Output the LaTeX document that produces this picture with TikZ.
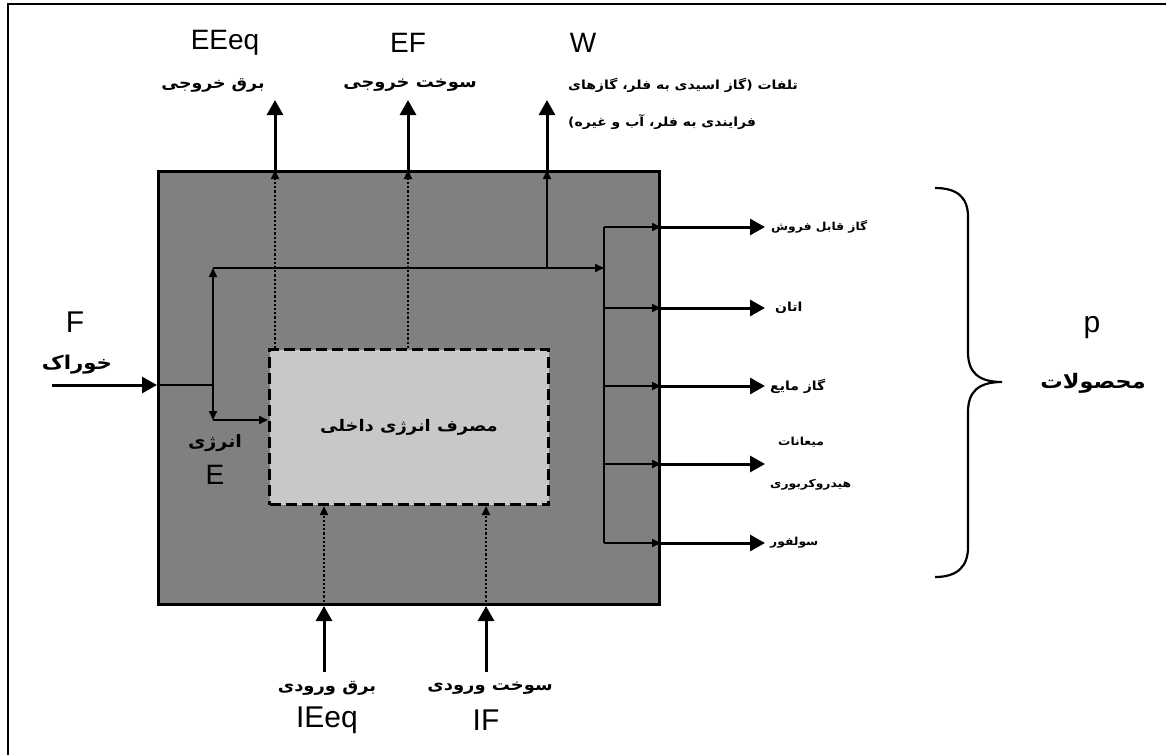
\documentclass[tikz,border=0pt]{standalone}
\usepackage{fontspec}
\setmainfont{Liberation Sans}
\newfontfamily\fa[Script=Arabic,FakeStretch=1.12]{DejaVu Sans}
\TeXXeTstate=1
\usetikzlibrary{arrows.meta}
\newcommand{\fatx}[1]{\beginR #1\endR}
\newcommand{\fsz}[1]{\fontsize{#1}{#1}\selectfont}
\definecolor{boxgray}{RGB}{128,128,128}
\definecolor{innergray}{RGB}{200,200,200}
\begin{document}
\begin{tikzpicture}[x=1pt,y=-1pt,
  lbl/.style={font=\fsz{28}, inner sep=0pt},
  lblb/.style={font=\fsz{30}, inner sep=0pt},
  fal/.style={font=\fa\bfseries\fsz{#1}, inner sep=0pt},
  fas/.style={font=\fa\bfseries\fsz{11}, inner sep=0pt, anchor=west},
  bigarrow/.style={line width=3pt, -{Triangle[width=16pt,length=15pt]}},
  thinarrow/.style={line width=1.7pt, -{Triangle[width=8pt,length=9pt]}},
  dotarrow/.style={line width=2.2pt, dotted, -{Triangle[width=8pt,length=9pt]}},
  thinline/.style={line width=1.7pt}
]
\useasboundingbox (0,0) rectangle (1166,755);
\fill[white] (0,0) rectangle (1166,755);
% frame (top and left only)
\draw[line width=2.5pt] (1166,4) -- (8,4) -- (8,755);

% boxes
\node[draw, line width=3pt, fill=boxgray, minimum width=501pt, minimum height=433pt,
      inner sep=0pt, anchor=north west] (box) at (157,170) {};
\node[draw, line width=3pt, dash pattern=on 11pt off 5pt, fill=innergray,
      minimum width=279pt, minimum height=155pt, inner sep=0pt, anchor=north west,
      font=\fa\bfseries\fsz{16}] (inner) at (268,348) {\fatx{مصرف انرژی داخلی}};

% top outputs
\coordinate (t1) at (275,100);
\coordinate (t2) at (408,100);
\coordinate (t3) at (547,100);
\draw[dotarrow] (t1 |- inner.north) -- (t1 |- box.north);
\draw[bigarrow] (t1 |- box.north) -- (t1);
\draw[dotarrow] (t2 |- inner.north) -- (t2 |- box.north);
\draw[bigarrow] (t2 |- box.north) -- (t2);

\node[lbl] (eeq) at (225,43) {EEeq};
\node[fal=15.5] (eeqfa) at (213,85) {\fatx{برق خروجی}};
\node[lbl] (ef) at (408,43) {EF};
\node[fal=16] (effa) at (410,85) {\fatx{سوخت خروجی}};
\node[lbl] (w) at (583,43) {W};
\node[fal=12.5, anchor=west] (wfa1) at (568,85) {\fatx{تلفات (گاز اسیدی به فلر، گازهای}};
\node[fal=12.5, anchor=west] (wfa2) at (568,122) {\fatx{فرایندی به فلر، آب و غیره)}};

% feed input
\coordinate (fin) at (52,385);
\coordinate (j1) at (213,385);
\coordinate (jt) at (213,268);
\coordinate (jb) at (213,420);
\draw[bigarrow] (fin) -- (fin -| box.west);
\draw[thinline] (fin -| box.west) -- (j1);
\draw[thinarrow] (j1) -- (jt);
\draw[thinarrow] (j1) -- (jb);
\draw[thinarrow] (jb) -- (jb -| inner.west);
\node[lblb] (f) at (75,322) {F};
\node[fal=19] (ffa) at (77,365) {\fatx{خوراک}};
\node[fal=17] (efa) at (215,443) {\fatx{انرژی}};
\node[lbl] (e) at (215,475) {E};

% products bus
\coordinate (b1) at (604,227);
\coordinate (b2) at (604,308);
\coordinate (b3) at (604,386);
\coordinate (b4) at (604,464);
\coordinate (b5) at (604,543);
\draw[thinarrow] (jt) -- (jt -| b1);
\draw[thinline] (b1) -- (b5);
\draw[thinarrow] (t3 |- jt) -- (t3 |- box.north);
\draw[bigarrow] (t3 |- box.north) -- (t3);
\foreach \i in {1,...,5}{
  \draw[thinarrow] (b\i) -- (b\i -| box.east);
  \coordinate (o\i) at ([xshift=104pt]b\i -| box.east);
  \draw[bigarrow] (b\i -| box.east) -- (o\i);
}
\node[fas] (p1) at (771,227) {\fatx{گاز قابل فروش}};
\node[fas, font=\fa\bfseries\fsz{12.5}] (p2) at (775,308) {\fatx{اتان}};
\node[fas, font=\fa\bfseries\fsz{12.5}] (p3) at (770,386) {\fatx{گاز مایع}};
\node[fas] (p4a) at (778,442) {\fatx{میعانات}};
\node[fas] (p4b) at (770,485) {\fatx{هیدروکربوری}};
\node[fas] (p5) at (770,543) {\fatx{سولفور}};

% brace
\draw[line width=2.2pt] (935,188) .. controls (958,188) and (968,198) .. (968,217)
  -- (968,352) .. controls (968,372) and (978,382) .. (1002,382)
  .. controls (978,382) and (968,392) .. (968,412)
  -- (968,547) .. controls (968,566) and (958,577) .. (935,577);
\node[lblb] (p) at (1092,328) {p};
\node[fal=20] (pfa) at (1093,383) {\fatx{محصولات}};

% bottom inputs
\coordinate (i1) at (324,672);
\coordinate (i2) at (486,672);
\draw[bigarrow] (i1) -- (i1 |- box.south);
\draw[dotarrow] (i1 |- box.south) -- (i1 |- inner.south);
\draw[bigarrow] (i2) -- (i2 |- box.south);
\draw[dotarrow] (i2 |- box.south) -- (i2 |- inner.south);
\node[fal=16] (ieqfa) at (327,688) {\fatx{برق ورودی}};
\node[lblb] (ieq) at (327,720) {IEeq};
\node[fal=16] (iffa) at (490,688) {\fatx{سوخت ورودی}};
\node[lblb] (if) at (486,720) {IF};
\end{tikzpicture}
\end{document}
